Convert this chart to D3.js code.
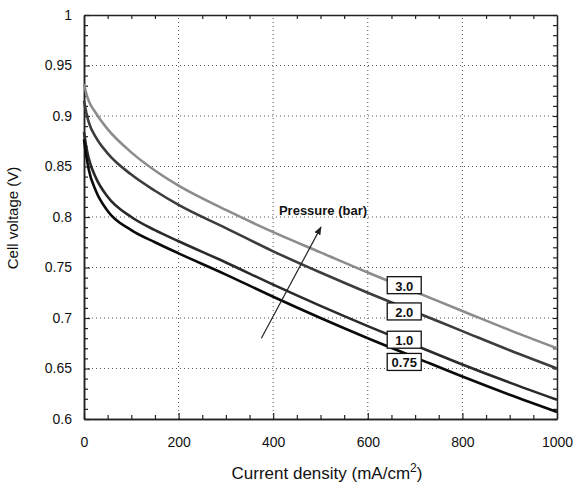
<!DOCTYPE html>
<html>
<head>
<meta charset="utf-8">
<script src="https://cdn.jsdelivr.net/npm/d3@7"></script>
<style>
  body { margin: 0; background: #fff; }
  svg text { font-family: Arial, "Liberation Sans", sans-serif; fill: #111; }
</style>
</head>
<body>
<svg id="chart" width="576" height="485"></svg>
<script>
// current density (mA/cm2)
const current = [0, 5, 10, 25, 50, 100, 150, 200, 300, 400, 500, 600, 700, 800, 900, 1000];
// cell voltage (V) for each pressure
const v300 = [0.932, 0.922, 0.915, 0.903, 0.887, 0.864, 0.846, 0.831, 0.807, 0.785, 0.765, 0.745, 0.726, 0.707, 0.688, 0.670];
const v200 = [0.915, 0.903, 0.894, 0.879, 0.863, 0.842, 0.826, 0.812, 0.789, 0.766, 0.745, 0.725, 0.706, 0.687, 0.668, 0.650];
const v100 = [0.884, 0.869, 0.858, 0.839, 0.820, 0.800, 0.787, 0.776, 0.755, 0.733, 0.712, 0.692, 0.673, 0.654, 0.636, 0.619];
const v075 = [0.877, 0.860, 0.847, 0.826, 0.806, 0.787, 0.775, 0.764, 0.743, 0.721, 0.700, 0.680, 0.661, 0.642, 0.624, 0.607];
const pressures = ["3.0", "2.0", "1.0", "0.75"];
const seriesValues = [v300, v200, v100, v075];
const colors = ["#8c8c8c", "#3c3c3c", "#2a2a2a", "#0a0a0a"];
// label boxes, in data units
const labelX = [677, 677, 677, 677];
const labelY = [0.732, 0.706, 0.678, 0.656];
// arrow, in data units
const arrowFrom = [375, 0.680];
const arrowTo = [501, 0.790];

const xMajor = [0, 200, 400, 600, 800, 1000];
const xMinor = d3.range(50, 1000, 50).filter(d => d % 200 != 0);
const yMajor = [0.6, 0.65, 0.7, 0.75, 0.8, 0.85, 0.9, 0.95, 1];
const yMinor = d3.range(0.61, 1.0, 0.01).map(d => +d.toFixed(2)).filter(d => Math.round(d * 100) % 5 != 0);

const svg = d3.select('#chart');
const x = d3.scaleLinear().domain([0, 1000]).range([84, 557]);
const y = d3.scaleLinear().domain([0.6, 1]).range([419, 15]);

// grid
const grid = svg.append('g').attr('stroke', '#555').attr('stroke-width', 1).attr('stroke-dasharray', '1,3');
grid.selectAll('.gx').data(xMajor.slice(1, -1)).enter().append('line')
    .attr('x1', d => x(d)).attr('x2', d => x(d)).attr('y1', y(0.6)).attr('y2', y(1));
grid.selectAll('.gy').data(yMajor.slice(1, -1)).enter().append('line')
    .attr('x1', x(0)).attr('x2', x(1000)).attr('y1', d => y(d)).attr('y2', d => y(d));

// axes, ticks point inwards
const fmtY = d => String(+d.toFixed(2));
function styleAxis(g) {
    g.select('.domain').attr('stroke', '#222').attr('stroke-width', 1.5);
    g.selectAll('.tick line').attr('stroke', '#222').attr('stroke-width', 1.2);
    g.selectAll('.tick text').attr('font-size', 14).attr('fill', '#111');
}
svg.append('g').attr('transform', 'translate(0,' + y(0.6) + ')')
    .call(d3.axisBottom(x).tickValues(xMajor).tickSize(-6).tickPadding(18).tickFormat(d3.format('d')).tickSizeOuter(0))
    .call(styleAxis);
svg.append('g').attr('transform', 'translate(0,' + y(0.6) + ')')
    .call(d3.axisBottom(x).tickValues(xMinor).tickSize(-4).tickFormat('').tickSizeOuter(0))
    .call(styleAxis);
svg.append('g').attr('transform', 'translate(0,' + y(1) + ')')
    .call(d3.axisTop(x).tickValues(xMinor).tickSize(-4).tickFormat('').tickSizeOuter(0))
    .call(styleAxis);
svg.append('g').attr('transform', 'translate(' + x(0) + ',0)')
    .call(d3.axisLeft(y).tickValues(yMajor).tickSize(-6).tickPadding(12).tickFormat(fmtY).tickSizeOuter(0))
    .call(styleAxis);
svg.append('g').attr('transform', 'translate(' + x(0) + ',0)')
    .call(d3.axisLeft(y).tickValues(yMinor).tickSize(-4).tickFormat('').tickSizeOuter(0))
    .call(styleAxis);
svg.append('g').attr('transform', 'translate(' + x(1000) + ',0)')
    .call(d3.axisRight(y).tickValues(yMinor.concat(yMajor)).tickSize(-4).tickFormat('').tickSizeOuter(0))
    .call(styleAxis);

// curves
const line = d3.line()
    .x(d => x(d[0]))
    .y(d => y(d[1]))
    .curve(d3.curveMonotoneX);
seriesValues.forEach((vals, i) => {
    svg.append('path')
        .datum(current.map((c, j) => [c, vals[j]]))
        .attr('d', line)
        .attr('fill', 'none')
        .attr('stroke', colors[i])
        .attr('stroke-width', 2.6)
        .attr('stroke-linejoin', 'round');
});

// labels
pressures.forEach((p, i) => {
    const cx = x(labelX[i]), cy = y(labelY[i]);
    svg.append('rect')
        .attr('x', cx - 17).attr('y', cy - 9)
        .attr('width', 34).attr('height', 17)
        .attr('fill', '#fff').attr('stroke', '#111').attr('stroke-width', 1.3);
    svg.append('text')
        .attr('x', cx).attr('y', cy + 5)
        .attr('text-anchor', 'middle')
        .attr('font-size', 13).attr('font-weight', 'bold')
        .text(p);
});

// arrow
svg.append('defs').append('marker')
    .attr('id', 'head').attr('viewBox', '0 0 10 10')
    .attr('refX', 9).attr('refY', 5)
    .attr('markerWidth', 7).attr('markerHeight', 7)
    .attr('orient', 'auto')
    .append('path').attr('d', 'M0,1 L10,5 L0,9 Z').attr('fill', '#222');
svg.append('line')
    .attr('x1', x(arrowFrom[0])).attr('y1', y(arrowFrom[1]))
    .attr('x2', x(arrowTo[0])).attr('y2', y(arrowTo[1]))
    .attr('stroke', '#222').attr('stroke-width', 1.2)
    .attr('marker-end', 'url(#head)');
svg.append('text')
    .attr('x', 323).attr('y', 215)
    .attr('text-anchor', 'middle')
    .attr('font-size', 13).attr('font-weight', 'bold')
    .text('Pressure (bar)');

// axis titles
svg.append('text')
    .attr('transform', 'translate(18,218) rotate(-90)')
    .attr('text-anchor', 'middle')
    .attr('font-size', 15)
    .text('Cell voltage (V)');
const xt = svg.append('text')
    .attr('x', 327).attr('y', 479)
    .attr('text-anchor', 'middle')
    .attr('font-size', 17);
xt.append('tspan').text('Current density (mA/cm');
xt.append('tspan').attr('dy', -7).attr('font-size', 12).text('2');
xt.append('tspan').attr('dy', 7).text(')');
</script>
</body>
</html>
